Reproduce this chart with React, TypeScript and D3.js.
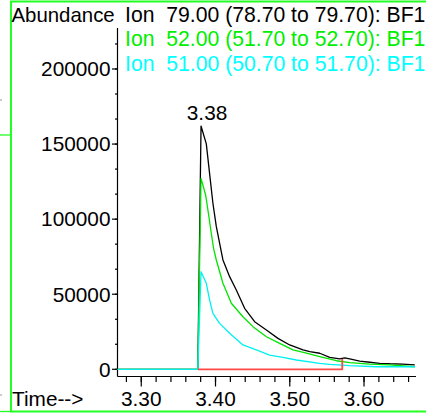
import React from 'react';
import * as d3 from 'd3';

// retention times (min) and abundances
const ion79Time = [3.268, 3.3762, 3.3805, 3.3876, 3.392, 3.3965, 3.4011, 3.4069, 3.41, 3.419, 3.428, 3.4392, 3.4527, 3.4685, 3.4841, 3.4999, 3.5178, 3.527, 3.5403, 3.5538, 3.5673, 3.574, 3.5807, 3.5942, 3.6077, 3.6212, 3.6346, 3.6522, 3.6684];
const ion79Abund = [0, 0, 162000, 150100, 130500, 110600, 95000, 80600, 72800, 61700, 52800, 40600, 31700, 26200, 20600, 16200, 12900, 11700, 10700, 8000, 6900, 7600, 6900, 5500, 4700, 4000, 3700, 3500, 2900];

const ion52Time = [3.268, 3.3762, 3.3805, 3.3867, 3.3911, 3.3943, 3.3974, 3.4011, 3.41, 3.4213, 3.4369, 3.4504, 3.4685, 3.4864, 3.5043, 3.5224, 3.5403, 3.5628, 3.5807, 3.6077, 3.6346, 3.6684];
const ion52Abund = [0, 0, 127200, 116100, 101600, 90600, 80600, 72800, 57300, 44000, 35000, 28400, 21700, 17300, 12900, 10700, 8400, 5700, 4400, 3500, 2900, 1700];

const ion51Time = [3.268, 3.3762, 3.3805, 3.3876, 3.392, 3.3965, 3.4055, 3.419, 3.4369, 3.4549, 3.4729, 3.4908, 3.5089, 3.5403, 3.5538, 3.5807, 3.6167, 3.6684];
const ion51Abund = [0, 0, 65000, 57300, 46200, 37300, 30600, 24000, 16200, 12900, 9500, 8000, 6200, 4000, 3300, 2400, 1700, 1700];

// integration baseline marker
const baseTime = [3.3762, 3.5707, 3.5707];
const baseAbund = [0, 0, 6900];

const legendLabels = [
  'Ion  79.00 (78.70 to 79.70): BF1',
  'Ion  52.00 (51.70 to 52.70): BF1',
  'Ion  51.00 (50.70 to 51.70): BF1',
];
const legendColors = ['#000000', '#00ee00', '#00ffff'];
const lineColors = ['#000000', '#00e400', '#00f0f0'];

const yMajor = [0, 50000, 100000, 150000, 200000];
const xMajor = [3.3, 3.4, 3.5, 3.6];
const peakLabel = '3.38';

const W = 426;
const H = 415;
const font = 'Liberation Sans, Arial, sans-serif';

type Pt = { t: number; v: number };
const zip = (t: number[], v: number[]): Pt[] => t.map((d, i) => ({ t: d, v: v[i] }));

export default function App() {
  const x = d3.scaleLinear().domain([3.268, 3.67]).range([117.5, 416]);
  const y = d3.scaleLinear().domain([0, 227300]).range([369.3, 28]);
  const axisY = 376.5;

  const line = d3.line<Pt>().x(d => x(d.t)).y(d => y(d.v));

  const series = [zip(ion79Time, ion79Abund), zip(ion52Time, ion52Abund), zip(ion51Time, ion51Abund)];

  const yMinor = d3.range(0, 227300, 50000 / 3);
  const xMinor = d3.range(3.28, 3.67, 0.02);

  const peak = series[0][d3.maxIndex(series[0], d => d.v)];

  return (
    <svg width={W} height={H} style={{ position: 'absolute', left: 0, top: 0, background: '#fff' }} fontFamily={font}>
      {/* outer frame */}
      <g stroke="#22ff22" fill="none">
        <path d={`M426,1.5H11V411.5H426`} strokeWidth={2} />
        <line x1={0} x2={11} y1={135} y2={135} strokeWidth={1.3} />
        <line x1={0} x2={11} y1={411.5} y2={411.5} strokeWidth={1.3} />
      </g>
      <g stroke="#999">
        <line x1={0} x2={2} y1={100} y2={100} />
        <line x1={0} x2={2} y1={395} y2={395} />
      </g>

      {/* axes */}
      <g stroke="#000" strokeWidth={1.2}>
        <line x1={x.range()[0]} x2={x.range()[0]} y1={y.range()[1]} y2={axisY} />
        <line x1={x.range()[0]} x2={x.range()[1]} y1={axisY} y2={axisY} />
        {yMinor.map((v, i) => (
          <line key={'ym' + i} x1={x.range()[0] - 2.5} x2={x.range()[0]} y1={y(v)} y2={y(v)} />
        ))}
        {yMajor.map(v => (
          <line key={'yM' + v} x1={x.range()[0] - 5.5} x2={x.range()[0]} y1={y(v)} y2={y(v)} />
        ))}
        {xMinor.map((t, i) => (
          <line key={'xm' + i} x1={x(t)} x2={x(t)} y1={axisY} y2={axisY + 5.5} />
        ))}
        {xMajor.map(t => (
          <line key={'xM' + t} x1={x(t)} x2={x(t)} y1={axisY} y2={axisY + 10} />
        ))}
      </g>
      <g fontSize={20.8} fill="#000">
        {yMajor.map(v => (
          <text key={'yl' + v} x={110.5} y={y(v) + 7.3} textAnchor="end">{v}</text>
        ))}
        {xMajor.map(t => (
          <text key={'xl' + t} x={x(t)} y={405.5} textAnchor="middle">{d3.format('.2f')(t)}</text>
        ))}
        <text x={12} y={405.5}>Time--&gt;</text>
        <text x={11.5} y={21.5} fontSize={20.4}>Abundance</text>
      </g>

      {/* legend */}
      <g fontSize={21.2}>
        {legendLabels.map((s, i) => (
          <text key={s} x={125} y={21.5 + i * 24.5} fill={legendColors[i]} style={{ whiteSpace: 'pre' }} xmlSpace="preserve">{s}</text>
        ))}
      </g>

      {/* traces */}
      <g fill="none" strokeWidth={1.3} strokeLinejoin="round">
        {series.map((s, i) => (
          <path key={i} d={line(s) ?? ''} stroke={lineColors[i]} />
        ))}
        <path d={line(zip(baseTime, baseAbund)) ?? ''} stroke="#ff4848" strokeWidth={1.8} />
      </g>

      <text x={x(peak.t) + 6} y={y(peak.v) - 6} textAnchor="middle" fontSize={20.8}>{peakLabel}</text>
    </svg>
  );
}
